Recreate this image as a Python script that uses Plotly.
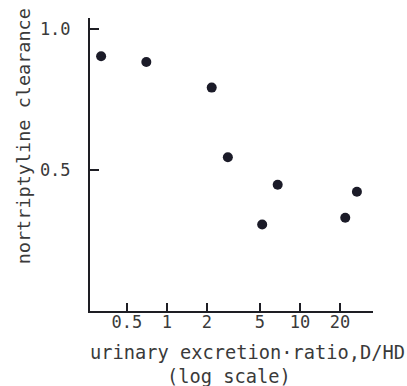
import plotly.graph_objects as go
import math

# data
ratio = [0.32, 0.70, 2.17, 2.87, 6.8, 5.2, 21.9, 26.8]
clearance = [0.904, 0.884, 0.793, 0.546, 0.448, 0.307, 0.331, 0.423]
x_ticks = [0.5, 1, 2, 5, 10, 20]
x_tick_labels = ["0.5", "1", "2", "5", "10", "20"]
y_ticks = [0.5, 1.0]
y_tick_labels = ["0.5", "1.0"]

FONT = "DejaVu Sans Mono"
TXT = "#3a3a3a"
AX = "#1e1e24"

fig = go.Figure(go.Scatter(
    x=ratio, y=clearance, mode="markers",
    marker=dict(size=10, color="#1b1b28"),
    showlegend=False, hoverinfo="skip"))

L, R, T, B = 90, 34, 18, 75
fig.update_layout(
    width=407, height=386,
    margin=dict(l=L, r=R, t=T, b=B),
    paper_bgcolor="white", plot_bgcolor="white",
    xaxis=dict(type="log", range=[math.log10(0.264), math.log10(35.4)],
               tickvals=x_ticks, ticktext=x_tick_labels,
               ticks="inside", ticklen=8, tickwidth=1.5, tickcolor=AX,
               showline=True, linecolor=AX, linewidth=2,
               showgrid=False, zeroline=False,
               tickfont=dict(family=FONT, size=17, color=TXT),
               ticklabelstandoff=-5),
    yaxis=dict(range=[0, 1.04], tickvals=y_ticks, ticktext=y_tick_labels,
               ticks="inside", ticklen=9, tickwidth=1.5, tickcolor=AX,
               showline=True, linecolor=AX, linewidth=2,
               showgrid=False, zeroline=False,
               tickfont=dict(family=FONT, size=17, color=TXT),
               ticklabelstandoff=14),
    annotations=[
        dict(text="urinary excretion·ratio,D/HD", xref="paper", yref="paper",
             x=0.557, y=-0.140, showarrow=False, xanchor="center", yanchor="middle",
             font=dict(family=FONT, size=18.7, color=TXT)),
        dict(text="(log scale)", xref="paper", yref="paper",
             x=0.491, y=-0.225, showarrow=False, xanchor="center", yanchor="middle",
             font=dict(family=FONT, size=18.7, color=TXT)),
        dict(text="nortriptyline clearance", xref="paper", yref="paper",
             x=-0.237, y=0.596, showarrow=False, textangle=-90,
             xanchor="center", yanchor="middle",
             font=dict(family=FONT, size=18.5, color=TXT)),
    ],
)

fig.write_html("out.html")
